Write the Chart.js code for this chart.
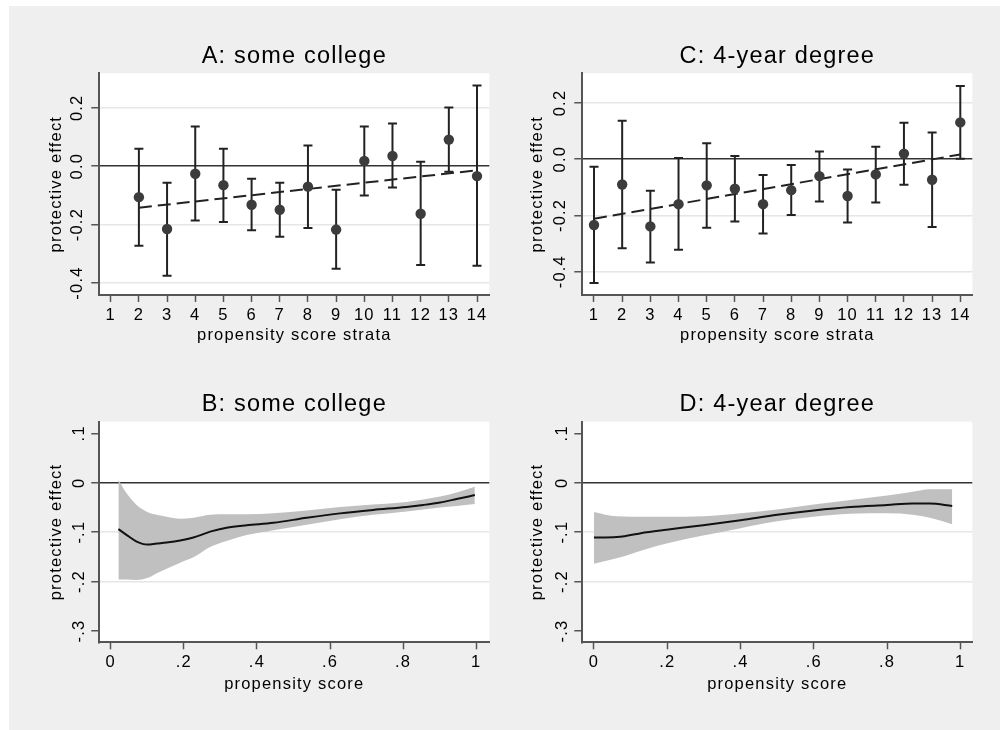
<!DOCTYPE html>
<html>
<head>
<meta charset="utf-8">
<script src="https://cdn.jsdelivr.net/npm/chart.js@4.4.1/dist/chart.umd.min.js"></script>
<style>
  html, body { margin: 0; padding: 0; background: #ffffff; }
  #page { position: relative; width: 1000px; height: 730px; overflow: hidden; }
  #bg { position: absolute; left: 9px; top: 6px; width: 991px; height: 724px; background: #efefef; }
  canvas { position: absolute; }
</style>
</head>
<body>
<div id="page">
  <div id="bg"></div>
  <canvas id="cA" width="500" height="365" style="left:0px;top:0px"></canvas>
  <canvas id="cC" width="500" height="365" style="left:500px;top:0px"></canvas>
  <canvas id="cB" width="500" height="365" style="left:0px;top:365px"></canvas>
  <canvas id="cD" width="500" height="365" style="left:500px;top:365px"></canvas>
</div>
<script>
// ---------------- DATA ----------------
const strata = [1,2,3,4,5,6,7,8,9,10,11,12,13,14];
const strataLabels = ['1','2','3','4','5','6','7','8','9','10','11','12','13','14'];

// Panel A: some college (stratum 1 empty)
const estA = [null,-0.106,-0.215,-0.026,-0.065,-0.132,-0.149,-0.070,-0.217,0.018,0.035,-0.163,0.091,-0.034];
const loA  = [null,-0.272,-0.375,-0.186,-0.191,-0.219,-0.242,-0.212,-0.351,-0.100,-0.073,-0.338,-0.019,-0.341];
const hiA  = [null,0.060,-0.057,0.136,0.060,-0.043,-0.057,0.071,-0.081,0.136,0.146,0.015,0.201,0.276];
const fitXA = [2,14];
const fitYA = [-0.142,-0.014];

// Panel C: 4-year degree
const estC = [-0.234,-0.090,-0.239,-0.160,-0.093,-0.105,-0.160,-0.110,-0.060,-0.131,-0.054,0.020,-0.073,0.131];
const loC  = [-0.440,-0.317,-0.367,-0.322,-0.244,-0.222,-0.264,-0.198,-0.150,-0.225,-0.154,-0.091,-0.241,0.002];
const hiC  = [-0.027,0.137,-0.112,0.004,0.057,0.011,-0.056,-0.021,0.027,-0.037,0.044,0.130,0.095,0.260];
const fitXC = [1,14];
const fitYC = [-0.212,0.017];

const yTicksAC = [-0.4,-0.2,0,0.2];
const yTickLabelsAC = ['-0.4','-0.2','0.0','0.2'];
const yGridAC = [-0.4,-0.2,0.2];

// Panel B: some college (smoothed)
const psB    = [0.021,0.044,0.071,0.100,0.126,0.153,0.190,0.226,0.272,0.317,0.372,0.445,0.536,0.627,0.718,0.809,0.855,0.901,0.946,0.996];
const lineB  = [-0.094,-0.106,-0.119,-0.125,-0.123,-0.121,-0.117,-0.111,-0.099,-0.091,-0.086,-0.081,-0.071,-0.062,-0.055,-0.049,-0.045,-0.040,-0.033,-0.025];
const upperB = [0.006,-0.022,-0.045,-0.059,-0.065,-0.069,-0.073,-0.071,-0.065,-0.064,-0.064,-0.062,-0.056,-0.049,-0.044,-0.039,-0.034,-0.028,-0.020,-0.008];
const lowerB = [-0.196,-0.196,-0.197,-0.193,-0.183,-0.174,-0.162,-0.151,-0.130,-0.118,-0.106,-0.096,-0.085,-0.074,-0.065,-0.058,-0.054,-0.050,-0.047,-0.043];

// Panel D: 4-year degree (smoothed)
const psD    = [0.000,0.062,0.144,0.198,0.298,0.400,0.500,0.600,0.700,0.800,0.870,0.917,0.978];
const lineD  = [-0.111,-0.110,-0.100,-0.095,-0.086,-0.076,-0.065,-0.056,-0.049,-0.045,-0.042,-0.042,-0.047];
const upperD = [-0.059,-0.068,-0.069,-0.069,-0.068,-0.062,-0.054,-0.044,-0.035,-0.026,-0.018,-0.013,-0.013];
const lowerD = [-0.164,-0.153,-0.134,-0.123,-0.107,-0.092,-0.078,-0.069,-0.063,-0.062,-0.065,-0.071,-0.084];

const yTicksBD = [-0.3,-0.2,-0.1,0,0.1];
const yTickLabelsBD = ['-.3','-.2','-.1','0','.1'];
const yGridBD = [-0.2,-0.1];
const xTicksBD = [0,0.2,0.4,0.6,0.8,1];
const xTickLabelsBD = ['0','.2','.4','.6','.8','1'];

// ---------------- STYLE ----------------
const FONT = "'Liberation Sans', Arial, Helvetica, sans-serif";
const AXIS = '#555555';
const INK = '#222222';

const stylePlugin = {
  id: 'stataStyle',
  beforeLayout(chart) { chart.ctx.letterSpacing = '1.2px'; },
  beforeDraw(chart) {
    const ctx = chart.ctx, a = chart.chartArea;
    ctx.letterSpacing = '1.2px';
    ctx.save();
    ctx.fillStyle = '#ffffff';
    ctx.fillRect(a.left, a.top, a.right - a.left, a.bottom - a.top);
    ctx.restore();
  }
};

function pts(xs, ys) {
  const out = [];
  for (let i = 0; i < xs.length; i++) if (ys[i] !== null) out.push({x: xs[i], y: ys[i]});
  return out;
}
function whiskers(xs, lo, hi) {
  const out = [];
  for (let i = 0; i < xs.length; i++) {
    if (lo[i] === null) continue;
    out.push({x: xs[i], y: lo[i]}, {x: xs[i], y: hi[i]}, {x: xs[i], y: null});
  }
  return out;
}
function caps(xs, lo, hi) {
  const out = [];
  for (let i = 0; i < xs.length; i++) {
    if (lo[i] === null) continue;
    out.push({x: xs[i], y: lo[i]}, {x: xs[i], y: hi[i]});
  }
  return out;
}

function makeScales(g) {
  return {
    x: {
      type: 'linear', min: g.xmin, max: g.xmax,
      afterBuildTicks: s => { s.ticks = g.xTicks.map(v => ({value: v})); },
      afterFit: s => { s.height = g.hx; },
      ticks: {
        autoSkip: false, maxRotation: 0, minRotation: 0, padding: 3.3,
        color: '#000', font: {family: FONT, size: 16.5},
        callback: (v, i) => g.xLabels[i]
      },
      grid: { drawOnChartArea: false, drawTicks: true, tickLength: 7, tickColor: AXIS, tickWidth: 1.5 },
      border: { display: true, color: AXIS, width: 2 },
      title: { display: true, text: g.xTitle, color: '#000', font: {family: FONT, size: 16.5}, padding: 0 }
    },
    y: {
      type: 'linear', min: g.ymin, max: g.ymax,
      afterBuildTicks: s => { s.ticks = g.yTicks.map(v => ({value: v})); },
      afterFit: s => { s.width = g.wy; },
      ticks: {
        autoSkip: false, minRotation: 90, maxRotation: 90, crossAlign: 'center', padding: g.ypad,
        color: '#000', font: {family: FONT, size: 16.5},
        callback: (v, i) => g.yLabels[i]
      },
      grid: {
        drawTicks: true, tickLength: 8, tickColor: AXIS, tickWidth: 1.5,
        color: c => {
          const v = c.tick ? c.tick.value : null;
          if (v === 0) return '#333333';
          if (g.yGrid.some(t => Math.abs(t - v) < 1e-9)) return '#e6e6e6';
          return 'rgba(0,0,0,0)';
        },
        lineWidth: 1.5
      },
      border: { display: true, color: AXIS, width: 2 },
      title: { display: true, text: 'protective effect', color: '#000', font: {family: FONT, size: 16.5}, padding: 0 }
    }
  };
}

function baseOptions(g) {
  return {
    responsive: false, animation: false, devicePixelRatio: 1,
    layout: { padding: g.pad },
    plugins: {
      legend: { display: false },
      tooltip: { enabled: false },
      title: {
        display: true, text: g.title, fullSize: false, color: '#000',
        font: {family: FONT, size: 23.5, weight: 'normal'},
        padding: {top: 0, bottom: g.tpb}
      }
    },
    scales: makeScales(g)
  };
}

function strataChart(id, est, lo, hi, fitX, fitY, g) {
  new Chart(document.getElementById(id), {
    type: 'scatter',
    data: {
      datasets: [
        { type: 'scatter', data: pts(strata, est), pointRadius: 5.2, pointBackgroundColor: '#3c3c3c', pointBorderWidth: 0 },
        { type: 'line', data: pts(fitX, fitY), borderColor: INK, borderWidth: 2, borderDash: [13, 6], pointRadius: 0, fill: false },
        { type: 'scatter', data: caps(strata, lo, hi), pointStyle: 'line', pointRadius: 4.5, pointBorderColor: INK, pointBorderWidth: 2 },
        { type: 'line', data: whiskers(strata, lo, hi), borderColor: INK, borderWidth: 2, pointRadius: 0, spanGaps: false, fill: false }
      ]
    },
    options: baseOptions(g),
    plugins: [stylePlugin]
  });
}

function smoothChart(id, xs, line, up, lo, g) {
  new Chart(document.getElementById(id), {
    type: 'line',
    data: {
      datasets: [
        { data: pts(xs, line), borderColor: '#111111', borderWidth: 2, pointRadius: 0, cubicInterpolationMode: 'monotone', fill: false },
        { data: pts(xs, up), borderColor: 'rgba(0,0,0,0)', borderWidth: 0, pointRadius: 0, cubicInterpolationMode: 'monotone', fill: '+1', backgroundColor: '#c0c0c0' },
        { data: pts(xs, lo), borderColor: 'rgba(0,0,0,0)', borderWidth: 0, pointRadius: 0, cubicInterpolationMode: 'monotone', fill: false }
      ]
    },
    options: baseOptions(g),
    plugins: [stylePlugin]
  });
}

strataChart('cA', estA, loA, hiA, fitXA, fitYA, {
  title: 'A: some college', xTitle: 'propensity score strata',
  xmin: 0.595, xmax: 14.436, ymin: -0.441, ymax: 0.318,
  xTicks: strata, xLabels: strataLabels, yTicks: yTicksAC, yLabels: yTickLabelsAC, yGrid: yGridAC,
  pad: {left: 46.1, right: 10.7, top: 42.8, bottom: 19.3}, wy: 53.2, hx: 50.7, tpb: 2.3, ypad: -2.3
});
strataChart('cC', estC, loC, hiC, fitXC, fitYC, {
  title: 'C: 4-year degree', xTitle: 'propensity score strata',
  xmin: 0.585, xmax: 14.426, ymin: -0.483, ymax: 0.3056,
  xTicks: strata, xLabels: strataLabels, yTicks: yTicksAC, yLabels: yTickLabelsAC, yGrid: yGridAC,
  pad: {left: 27.6, right: 27.7, top: 42.8, bottom: 19.3}, wy: 54.7, hx: 50.7, tpb: 2.3, ypad: -2.3
});
smoothChart('cB', psB, lineB, upperB, lowerB, {
  title: 'B: some college', xTitle: 'propensity score',
  xmin: -0.0312, xmax: 1.0356, ymin: -0.3229, ymax: 0.1235,
  xTicks: xTicksBD, xLabels: xTickLabelsBD, yTicks: yTicksBD, yLabels: yTickLabelsBD, yGrid: yGridBD,
  pad: {left: 46.1, right: 10.7, top: 25.1, bottom: 36}, wy: 53.2, hx: 51.7, tpb: 3.4, ypad: 0.7
});
smoothChart('cD', psD, lineD, upperD, lowerD, {
  title: 'D: 4-year degree', xTitle: 'propensity score',
  xmin: -0.0319, xmax: 1.0328, ymin: -0.3229, ymax: 0.1235,
  xTicks: xTicksBD, xLabels: xTickLabelsBD, yTicks: yTicksBD, yLabels: yTickLabelsBD, yGrid: yGridBD,
  pad: {left: 27.6, right: 27.7, top: 25.1, bottom: 36}, wy: 54.7, hx: 51.7, tpb: 3.4, ypad: 0.7
});
</script>
</body>
</html>
